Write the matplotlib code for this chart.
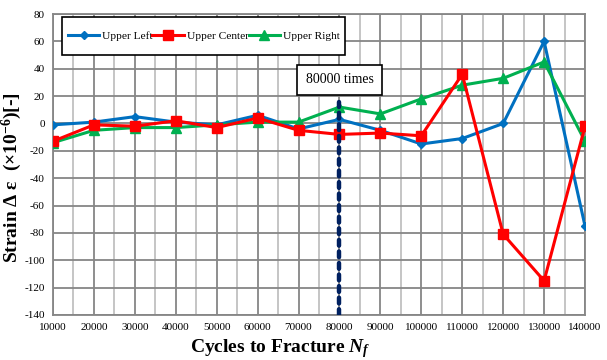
import matplotlib
matplotlib.use("Agg")
import matplotlib.pyplot as plt
from matplotlib.patches import Rectangle
import numpy as np

plt.rcParams['font.family'] = ['Liberation Serif', 'DejaVu Serif']
plt.rcParams['axes.unicode_minus'] = False
plt.rcParams['mathtext.fontset'] = 'custom'
plt.rcParams['mathtext.rm'] = 'Liberation Serif:bold'
plt.rcParams['mathtext.bf'] = 'Liberation Serif:bold'
plt.rcParams['mathtext.it'] = 'Liberation Serif:bold:italic'

# data
cycles = [10000, 20000, 30000, 40000, 50000, 60000, 70000,
          80000, 90000, 100000, 110000, 120000, 130000, 140000]
upper_left = [-1, 1, 5, 1, -1, 6, -4, 3, -5, -15, -11, 0, 60, -75]
upper_center = [-13, -1, -2, 2, -3, 4, -5, -8, -7, -9, 36, -81, -115, -2]
upper_right = [-14, -5, -3, -3, -1, 1, 1, 12, 7, 18, 28, 33, 45, -13]
mark_x = 80000
mark_label = '80000 times'

fig = plt.figure(figsize=(6.07, 3.6), dpi=100)
ax = fig.add_axes([0.0873, 0.125, 0.8765, 0.836])

# grid: dark at ticks, light midway on x
for x in np.arange(15000, 140000, 10000):
    ax.axvline(x, color='#c0c0c0', lw=1.3, zorder=0)
for x in cycles:
    ax.axvline(x, color='#868686', lw=1.3, zorder=0)
for y in range(-140, 81, 20):
    ax.axhline(y, color='#868686', lw=1.3, zorder=0)

ax.plot(cycles, upper_left, color='#0070C0', lw=2.2, marker='D', ms=4.5,
        label='Upper Left', zorder=3)
ax.plot(cycles, upper_center, color='#FF0000', lw=2.2, marker='s', ms=6.5,
        label='Upper Center', zorder=4)
ax.plot(cycles, upper_right, color='#00B050', lw=2.2, marker='^', ms=6.5,
        label='Upper Right', zorder=3)

ax.plot([mark_x, mark_x], [-140, 16], color='#002060', lw=3.2,
        ls=(0, (1.3, 1.3)), dash_capstyle='round', zorder=5)
ax.text(mark_x, 32, mark_label, ha='center', va='center', fontsize=10,
        bbox=dict(boxstyle='square,pad=0.6', fc='white', ec='black', lw=1.2),
        zorder=6)

ax.set_xlim(10000, 140000)
ax.set_ylim(-140, 80)
ax.set_xticks(cycles)
ax.set_yticks(range(-140, 81, 20))
ax.tick_params(length=0, labelsize=8, pad=6)
for s in ax.spines.values():
    s.set_color('#868686')
    s.set_linewidth(1.3)

# legend box drawn separately so it can be taller than the entries need
ax.add_patch(Rectangle((0.017, 0.864), 0.532, 0.126, transform=ax.transAxes,
                       fc='white', ec='black', lw=1.2, zorder=7))
leg = ax.legend(loc='center', bbox_to_anchor=(0.283, 0.927), ncol=3,
                fontsize=8.2, frameon=False, handlelength=2.8,
                handletextpad=0.2, columnspacing=0.0, borderpad=0.0)
leg.set_zorder(8)

ax.set_xlabel('Cycles to Fracture $N_f$', fontsize=14, fontweight='bold')
ax.xaxis.set_label_coords(0.427, -0.075)
ax.set_ylabel('Strain Δ ε  (×10$^{-6}$)[-]', fontsize=14, fontweight='bold')
ax.yaxis.set_label_coords(-0.078, 0.455)
ax.yaxis.label.set_va('center')

fig.savefig('out.png', dpi=100)
